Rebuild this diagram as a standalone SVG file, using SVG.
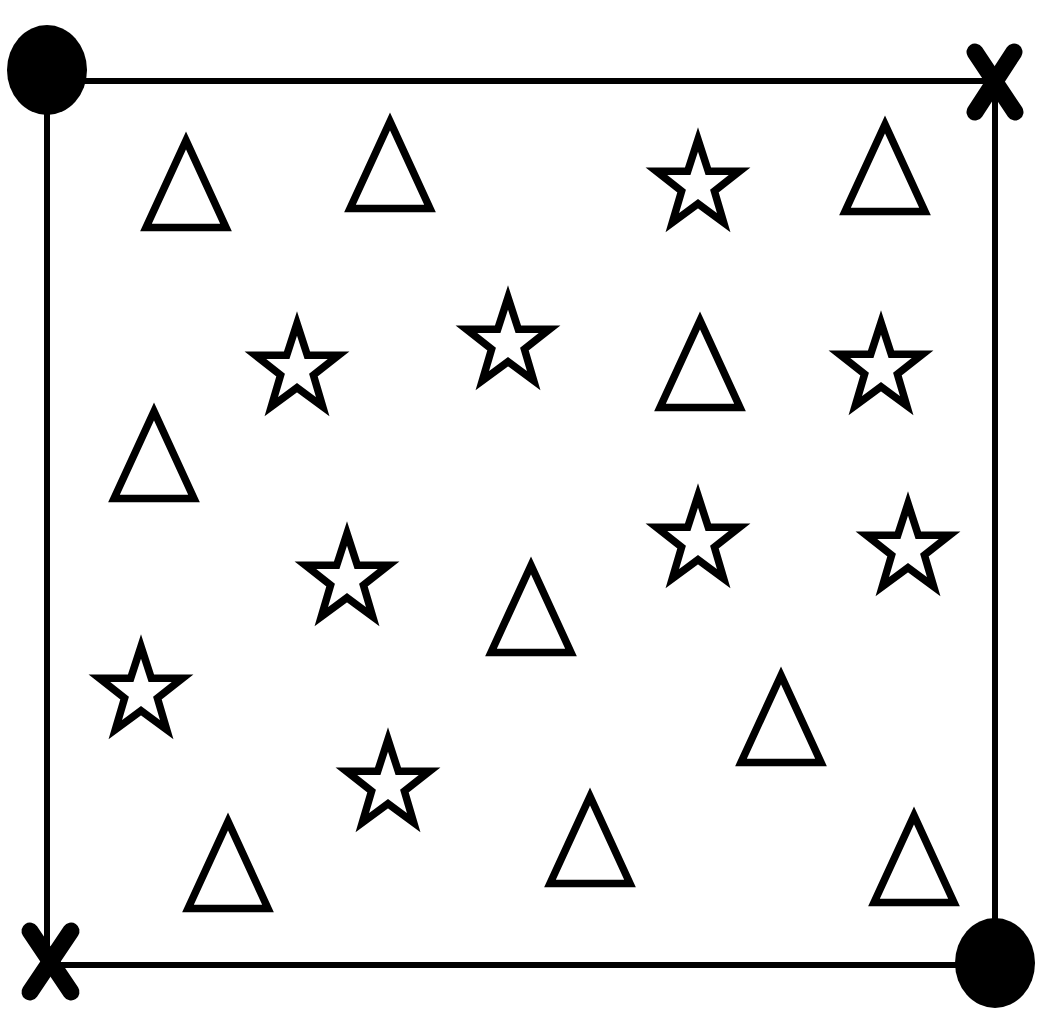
<svg xmlns="http://www.w3.org/2000/svg" xmlns:xlink="http://www.w3.org/1999/xlink" width="1049" height="1012" viewBox="0 0 1049 1012">
<style>
.frame{stroke:#000;stroke-width:6;fill:none;stroke-linecap:butt}
.shape{fill:#fff;stroke:#000;stroke-width:7.5;stroke-linejoin:miter;stroke-miterlimit:10}
.dot{fill:#000}
.cross{stroke:#000;stroke-width:17;stroke-linecap:round;fill:none}
</style>
<defs>
<path id="tri" d="M0,-43 L40,44 L-40,44 Z"/>
<path id="star" d="M0,-46 L10.3,-14.24 L41.6,-14.2 L16.4,5.6 L25.7,37.2 L0,18.2 L-25.7,37.2 L-16.4,5.6 L-41.6,-14.2 L-10.3,-14.24 Z"/>
</defs>
<rect width="1049" height="1012" fill="#fff"/>
<g id="connectors">
<line class="frame" x1="47" y1="81" x2="995" y2="81"/>
<line class="frame" x1="995" y1="81" x2="995" y2="965"/>
<line class="frame" x1="47" y1="965" x2="995" y2="965"/>
<line class="frame" x1="47" y1="81" x2="47" y2="965"/>
</g>
<g id="corner-tl"><ellipse class="dot" cx="47" cy="70" rx="40" ry="45"/></g>
<g id="corner-br"><ellipse class="dot" cx="995" cy="963" rx="40" ry="45"/></g>
<g id="corner-tr"><line class="cross" x1="975" y1="52" x2="1015" y2="112"/><line class="cross" x1="1014" y1="52" x2="975" y2="112"/></g>
<g id="corner-bl"><line class="cross" x1="30" y1="931" x2="71" y2="992"/><line class="cross" x1="71" y1="931" x2="30" y2="992"/></g>
<g id="t1"><use href="#tri" class="shape" transform="translate(186,183.4)"/></g>
<g id="t2"><use href="#tri" class="shape" transform="translate(390,164.4)"/></g>
<g id="t3"><use href="#tri" class="shape" transform="translate(885,167.4)"/></g>
<g id="t4"><use href="#tri" class="shape" transform="translate(700,363.4)"/></g>
<g id="t5"><use href="#tri" class="shape" transform="translate(154,454.4)"/></g>
<g id="t6"><use href="#tri" class="shape" transform="translate(531,608.4)"/></g>
<g id="t7"><use href="#tri" class="shape" transform="translate(781,718.4)"/></g>
<g id="t8"><use href="#tri" class="shape" transform="translate(228,864.4)"/></g>
<g id="t9"><use href="#tri" class="shape" transform="translate(590,839.4)"/></g>
<g id="t10"><use href="#tri" class="shape" transform="translate(914,858.4)"/></g>
<g id="s1"><use href="#star" class="shape" transform="translate(297,369.5)"/></g>
<g id="s2"><use href="#star" class="shape" transform="translate(508,343.5)"/></g>
<g id="s3"><use href="#star" class="shape" transform="translate(698,185.5)"/></g>
<g id="s4"><use href="#star" class="shape" transform="translate(881,368.5)"/></g>
<g id="s5"><use href="#star" class="shape" transform="translate(347,579.5)"/></g>
<g id="s6"><use href="#star" class="shape" transform="translate(698,541.5)"/></g>
<g id="s7"><use href="#star" class="shape" transform="translate(908,549.5)"/></g>
<g id="s8"><use href="#star" class="shape" transform="translate(141,692.5)"/></g>
<g id="s9"><use href="#star" class="shape" transform="translate(388,785.5)"/></g>
</svg>
